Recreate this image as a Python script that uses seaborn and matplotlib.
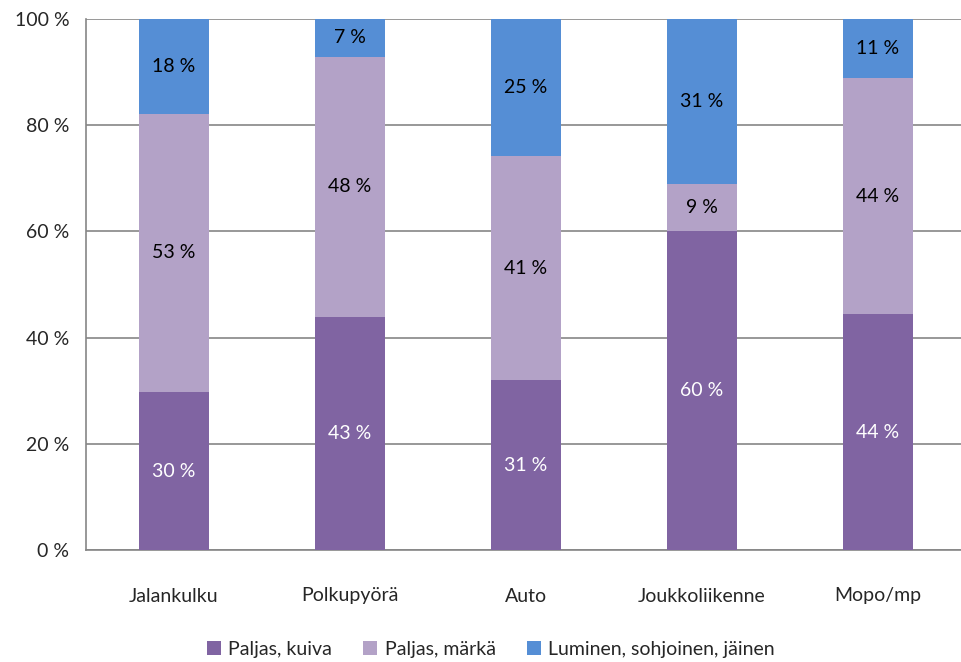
import matplotlib
matplotlib.use("Agg")
import matplotlib.pyplot as plt
import seaborn as sns
import numpy as np
import pandas as pd
from matplotlib.patches import Patch
from matplotlib.ticker import FixedLocator, NullFormatter

categories = ["Jalankulku", "Polkupyörä", "Auto", "Joukkoliikenne", "Mopo/mp"]
series_names = ["Paljas, kuiva", "Paljas, märkä", "Luminen, sohjoinen, jäinen"]
kuiva = [30, 43, 31, 60, 44]
marka = [53, 48, 41, 9, 44]
luminen = [18, 7, 25, 31, 11]
colors = ["#8064A2", "#B3A2C7", "#558ED5"]
label_colors = ["white", "black", "black"]
yticks = [0, 20, 40, 60, 80, 100]
ytick_labels = ["0 %", "20 %", "40 %", "60 %", "80 %", "100 %"]

sns.set_style("white")
plt.rcParams["font.family"] = ["Lato", "DejaVu Sans"]
FS = 14

raw = np.array([kuiva, marka, luminen], dtype=float)
share = raw / raw.sum(axis=0) * 100
cum = np.cumsum(share, axis=0)

fig = plt.figure(figsize=(9.61, 6.62), dpi=100)
ax = fig.add_axes([86/961, 112/662, 880/961, 531/662])

for i in [2, 1, 0]:
    df = pd.DataFrame({"cat": categories, "val": cum[i]})
    sns.barplot(data=df, x="cat", y="val", color=colors[i], width=0.4,
                saturation=1, ax=ax, zorder=3, edgecolor="none")

for i in range(3):
    for j in range(len(categories)):
        y = cum[i][j] - share[i][j] / 2
        ax.text(j, y, f"{int(raw[i][j])} %", ha="center", va="center",
                fontsize=FS, color=label_colors[i], zorder=5)

ax.set_ylim(0, 100)
ax.set_xlim(-0.5, len(categories) - 0.5)
ax.set_yticks(yticks)
ax.set_yticklabels(ytick_labels, fontsize=FS)
ax.set_xlabel("")
ax.set_ylabel("")
ax.yaxis.grid(True, color="#868686", linewidth=1.2, zorder=0)
ax.set_axisbelow(True)
for s in ["top", "right"]:
    ax.spines[s].set_visible(False)
for s in ["left", "bottom"]:
    ax.spines[s].set_color("#868686")
    ax.spines[s].set_linewidth(1.2)

ax.tick_params(axis="y", direction="out", length=6, width=1.2, color="#868686", pad=6)
ax.set_xticks(range(len(categories)))
ax.set_xticklabels(categories, fontsize=FS)
ax.tick_params(axis="x", which="major", length=0, pad=27)
ax.xaxis.set_minor_locator(FixedLocator(np.arange(-0.5, len(categories), 1)))
ax.xaxis.set_minor_formatter(NullFormatter())
ax.tick_params(axis="x", which="minor", direction="out", length=6, width=1.2, color="#868686")

handles = [Patch(facecolor=c, edgecolor="none") for c in colors]
fig.legend(handles, series_names, loc="center", bbox_to_anchor=(491/961, 1 - 649/662),
           ncol=3, frameon=False, fontsize=FS, handlelength=0.7, handleheight=0.7,
           handletextpad=0.4, columnspacing=1.6)

fig.savefig("out.png", dpi=100)
